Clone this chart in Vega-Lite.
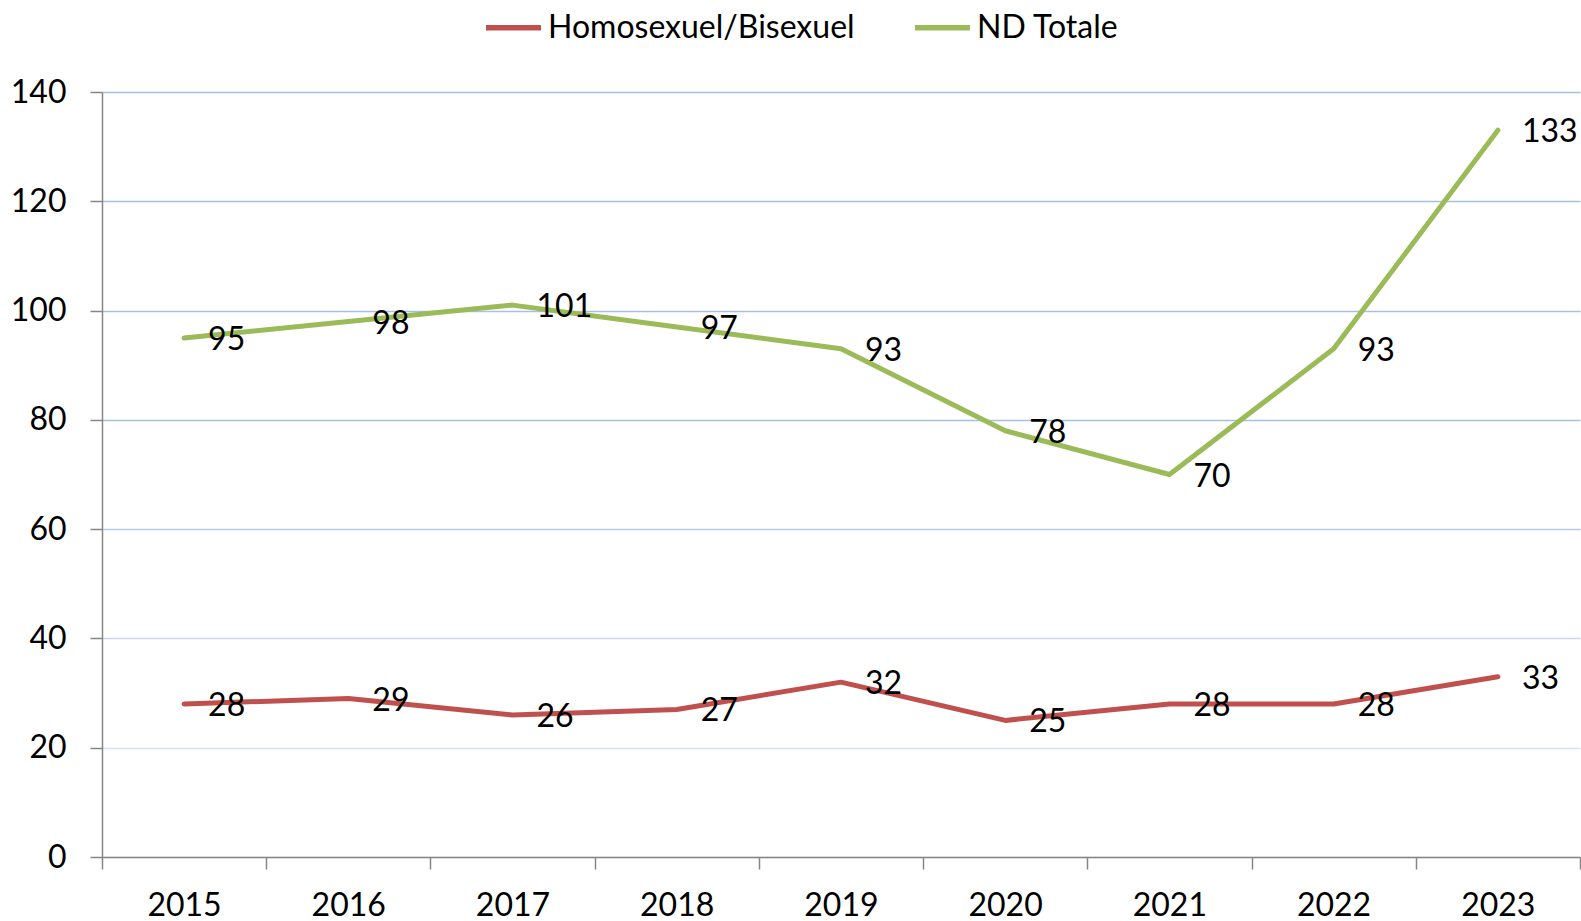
{
  "$schema": "https://vega.github.io/schema/vega-lite/v6.json",
  "width": 1478,
  "height": 765,
  "autosize": {"type": "none"},
  "padding": {"left": 102, "top": 92, "right": 1, "bottom": 64},
  "background": "white",
  "config": {
    "view": {"stroke": null},
    "font": "Lato",
    "axis": {"labelFont": "Lato", "labelFontSize": 32, "labelColor": "black", "titleFont": "Lato"},
    "legend": {"labelFont": "Lato", "labelFontSize": 32, "labelColor": "black", "labelLimit": 0}
  },
  "data": {
    "values": [
      {"year": 2015, "serie": "Homosexuel/Bisexuel", "value": 28},
      {"year": 2016, "serie": "Homosexuel/Bisexuel", "value": 29},
      {"year": 2017, "serie": "Homosexuel/Bisexuel", "value": 26},
      {"year": 2018, "serie": "Homosexuel/Bisexuel", "value": 27},
      {"year": 2019, "serie": "Homosexuel/Bisexuel", "value": 32},
      {"year": 2020, "serie": "Homosexuel/Bisexuel", "value": 25},
      {"year": 2021, "serie": "Homosexuel/Bisexuel", "value": 28},
      {"year": 2022, "serie": "Homosexuel/Bisexuel", "value": 28},
      {"year": 2023, "serie": "Homosexuel/Bisexuel", "value": 33},
      {"year": 2015, "serie": "ND Totale", "value": 95},
      {"year": 2016, "serie": "ND Totale", "value": 98},
      {"year": 2017, "serie": "ND Totale", "value": 101},
      {"year": 2018, "serie": "ND Totale", "value": 97},
      {"year": 2019, "serie": "ND Totale", "value": 93},
      {"year": 2020, "serie": "ND Totale", "value": 78},
      {"year": 2021, "serie": "ND Totale", "value": 70},
      {"year": 2022, "serie": "ND Totale", "value": 93},
      {"year": 2023, "serie": "ND Totale", "value": 133}
    ]
  },
  "encoding": {
    "x": {
      "field": "year",
      "type": "quantitative",
      "scale": {"domain": [2014.5, 2023.5], "nice": false, "zero": false},
      "axis": {
        "title": null,
        "values": [2014.5, 2015.5, 2016.5, 2017.5, 2018.5, 2019.5, 2020.5, 2021.5, 2022.5, 2023.5],
        "labelExpr": "datum.value > 2023 ? '' : format(datum.value + 0.5, 'd')",
        "labelOffset": 82,
        "labelOverlap": false,
        "labelBound": false,
        "labelFlush": false,
        "labelPadding": 21,
        "tickSize": 12,
        "tickColor": "#868686",
        "tickWidth": 1.5,
        "domainColor": "#868686",
        "domainWidth": 1.5,
        "grid": false
      }
    },
    "y": {
      "field": "value",
      "type": "quantitative",
      "scale": {"domain": [0, 140], "nice": false},
      "axis": {
        "title": null,
        "values": [0, 20, 40, 60, 80, 100, 120, 140],
        "tickSize": 12,
        "tickColor": "#868686",
        "tickWidth": 1.5,
        "domainColor": "#868686",
        "domainWidth": 1.5,
        "labelPadding": 24,
        "grid": true,
        "gridWidth": 1.5,
        "gridColor": {
          "condition": [
            {"test": "datum.value <= 20", "value": "#D6E1F3"},
            {"test": "datum.value <= 40", "value": "#C8D7EF"},
            {"test": "datum.value <= 60", "value": "#B8CAEB"}
          ],
          "value": "#A8BFE6"
        }
      }
    }
  },
  "layer": [
    {
      "mark": {"type": "line", "strokeWidth": 5, "strokeCap": "round", "strokeJoin": "round"},
      "encoding": {
        "color": {
          "field": "serie",
          "type": "nominal",
          "scale": {"domain": ["Homosexuel/Bisexuel", "ND Totale"], "range": ["#C0504D", "#9BBB59"]},
          "legend": {
            "title": null,
            "orient": "none",
            "direction": "horizontal",
            "legendX": 381,
            "legendY": -95,
            "symbolType": "stroke",
            "symbolSize": 3025,
            "symbolStrokeWidth": 5.5,
            "labelOffset": 4,
            "columnPadding": 49
          }
        }
      }
    },
    {
      "mark": {"type": "text", "align": "left", "baseline": "middle", "dx": 24, "dy": 2, "fontSize": 32, "font": "Lato", "color": "black"},
      "encoding": {
        "text": {"field": "value", "type": "quantitative"},
        "detail": {"field": "serie"}
      }
    }
  ]
}
